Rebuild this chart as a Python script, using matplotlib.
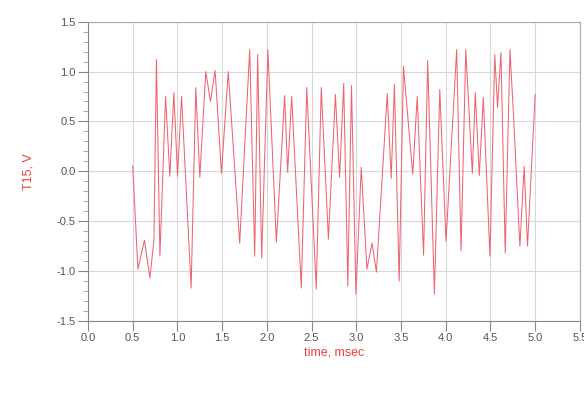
import matplotlib
matplotlib.use("Agg")
import matplotlib.pyplot as plt
from matplotlib.ticker import MultipleLocator

# =========================
# Data (turning points)
# =========================
time_ms = [0.50, 0.558, 0.631, 0.692, 0.737, 0.765, 0.804, 0.867, 0.915, 0.960,
           1.001, 1.046, 1.153, 1.205, 1.250, 1.317, 1.369, 1.421, 1.492, 1.568,
           1.696, 1.808, 1.864, 1.897, 1.942, 2.011, 2.106, 2.199, 2.232, 2.277,
           2.385, 2.446, 2.552, 2.608, 2.688, 2.766, 2.813, 2.859, 2.905, 2.946,
           2.996, 3.055, 3.119, 3.175, 3.225, 3.346, 3.390, 3.426, 3.479, 3.527,
           3.631, 3.681, 3.752, 3.798, 3.873, 3.933, 4.003, 4.122, 4.171, 4.224,
           4.297, 4.330, 4.375, 4.420, 4.494, 4.548, 4.579, 4.617, 4.665, 4.718,
           4.758, 4.829, 4.877, 4.914, 5.00]
t15_v = [0.05, -0.98, -0.69, -1.07, -0.69, 1.12, -0.85, 0.75, -0.05, 0.79,
         -0.05, 0.75, -1.17, 0.84, -0.06, 1.00, 0.70, 1.01, -0.02, 1.00,
         -0.72, 1.22, -0.85, 1.17, -0.87, 1.22, -0.71, 0.76, -0.01, 0.75,
         -1.17, 0.84, -1.18, 0.84, -0.68, 0.77, -0.06, 0.88, -1.15, 0.86,
         -1.23, 0.04, -0.98, -0.72, -1.01, 0.78, -0.07, 0.87, -1.10, 1.05,
         -0.03, 0.75, -0.84, 1.11, -1.23, 0.82, -0.70, 1.22, -0.80, 1.22,
         -0.02, 0.79, -0.04, 0.74, -0.85, 1.17, 0.64, 1.19, -0.82, 1.22,
         0.55, -0.75, 0.05, -0.75, 0.77]

x_ticks = [0.0, 0.5, 1.0, 1.5, 2.0, 2.5, 3.0, 3.5, 4.0, 4.5, 5.0, 5.5]
y_ticks = [-1.5, -1.0, -0.5, 0.0, 0.5, 1.0, 1.5]

# =========================
# Plot
# =========================
plt.rcParams["font.family"] = ["Liberation Sans", "DejaVu Sans"]

fig = plt.figure(figsize=(5.84, 3.94), dpi=100)
ax = fig.add_axes([0.1507, 0.1853, 0.8423, 0.7597])

ax.plot(time_ms, t15_v, color="#ee6470", linewidth=0.75)

ax.set_xlim(0, 5.5)
ax.set_ylim(-1.5, 1.5)
ax.set_xticks(x_ticks)
ax.set_xticklabels([f"{v:.1f}" for v in x_ticks])
ax.set_yticks(y_ticks)
ax.set_yticklabels([f"{v:.1f}" for v in y_ticks])
ax.yaxis.set_minor_locator(MultipleLocator(0.1))

ax.grid(True, which="major", color="#d8d8d8", linewidth=0.8)
ax.set_axisbelow(True)

ax.tick_params(axis="both", which="major", direction="out", length=7,
               width=0.8, color="#888888", labelsize=8, labelcolor="#555555", pad=2)
ax.tick_params(axis="y", which="minor", direction="out", length=3.5,
               width=0.6, color="#999999")

for side in ["left", "bottom"]:
    ax.spines[side].set_color("#888888")
for side in ["top", "right"]:
    ax.spines[side].set_color("#aaaaaa")

ax.set_xlabel("time, msec", color="#e8403c", fontsize=9, labelpad=2)
ax.set_ylabel("T15, V", color="#e8403c", fontsize=9, labelpad=16)

plt.savefig("out.png", dpi=100)
